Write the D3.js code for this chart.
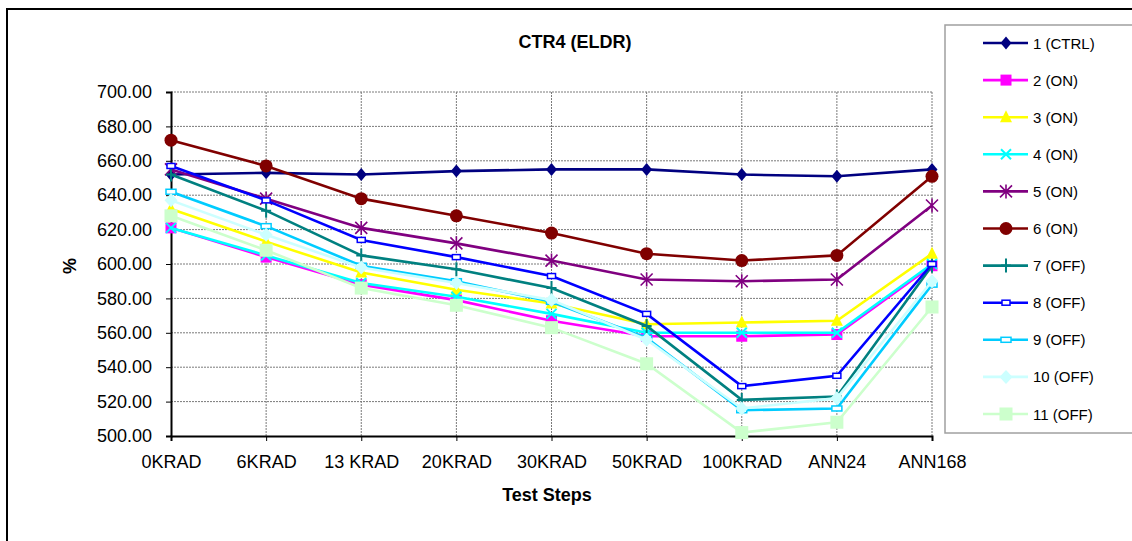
<!DOCTYPE html>
<html>
<head>
<meta charset="utf-8">
<script src="https://cdn.jsdelivr.net/npm/d3@7"></script>
<style>
  html, body { margin: 0; padding: 0; background: #fff; }
  svg { display: block; font-family: "Liberation Sans", Arial, sans-serif; }
</style>
</head>
<body>
<svg id="chart" width="1132" height="541"></svg>
<script>
const categories = ["0KRAD", "6KRAD", "13 KRAD", "20KRAD", "30KRAD", "50KRAD", "100KRAD", "ANN24", "ANN168"];
const yTicks = [500, 520, 540, 560, 580, 600, 620, 640, 660, 680, 700];
const seriesNames = ["1 (CTRL)", "2 (ON)", "3 (ON)", "4 (ON)", "5 (ON)", "6 (ON)", "7 (OFF)", "8 (OFF)", "9 (OFF)", "10 (OFF)", "11 (OFF)"];
const s1  = [652, 653, 652, 654, 655, 655, 652, 651, 655];
const s2  = [621, 604, 588, 579, 567, 558, 558, 559, 599];
const s3  = [632, 613, 595, 585, 577, 565, 566, 567, 606];
const s4  = [621, 605, 589, 581, 571, 560, 560, 560, 600];
const s5  = [655, 638, 621, 612, 602, 591, 590, 591, 634];
const s6  = [672, 657, 638, 628, 618, 606, 602, 605, 651];
const s7  = [652, 631, 605, 597, 586, 564, 521, 523, 599];
const s8  = [657, 637, 614, 604, 593, 571, 529, 535, 600];
const s9  = [642, 622, 599, 590, 578, 557, 515, 516, 588];
const s10 = [637, 617, 598, 589, 579, 556, 516, 522, 590];
const s11 = [628, 608, 586, 576, 563, 542, 502, 508, 575];
const seriesValues = [s1, s2, s3, s4, s5, s6, s7, s8, s9, s10, s11];

const colors = ["#000080", "#FF00FF", "#FFFF00", "#00FFFF", "#800080", "#800000", "#008080", "#0000FF", "#00CCFF", "#CCFFFF", "#CCFFCC"];
const markers = ["diamond", "square", "triangle", "x", "asterisk", "circle", "plus", "dashrect", "dashrect2", "diamond2", "square2"];

const svg = d3.select("#chart");

// outer frame
svg.append("rect").attr("x", 7).attr("y", 9).attr("width", 1140).attr("height", 560)
  .attr("fill", "none").attr("stroke", "#000").attr("stroke-width", 2);

const x = d3.scalePoint().domain(categories).range([171, 932]).padding(0);
const y = d3.scaleLinear().domain([500, 700]).range([436, 92]);

// gridlines
const grid = svg.append("g");
grid.selectAll("line.h").data(yTicks.slice(1)).join("line")
  .attr("x1", 171).attr("x2", 932).attr("y1", d => y(d)).attr("y2", d => y(d))
  .attr("stroke", "#7a7a7a").attr("stroke-width", 1).attr("stroke-dasharray", "2,1");
grid.selectAll("line.v").data(categories.slice(1)).join("line")
  .attr("x1", d => x(d)).attr("x2", d => x(d)).attr("y1", 92).attr("y2", 436)
  .attr("stroke", "#7a7a7a").attr("stroke-width", 1).attr("stroke-dasharray", "2,1");

// axes
const yAxis = d3.axisLeft(y).tickValues(yTicks).tickFormat(d3.format(".2f")).tickSize(5).tickPadding(14);
const gy = svg.append("g").attr("transform", "translate(171,0)").call(yAxis);
gy.select(".domain").attr("stroke", "#000").attr("stroke-width", 2);
gy.selectAll("text").attr("font-size", 18).attr("fill", "#000");

const xAxis = d3.axisBottom(x).tickSize(5).tickPadding(14);
const gx = svg.append("g").attr("transform", "translate(0,436)").call(xAxis);
gx.select(".domain").attr("stroke", "#000").attr("stroke-width", 2);
gx.selectAll("text").attr("font-size", 18).attr("fill", "#000");

// marker drawing
function drawMarker(g, type, color) {
  switch (type) {
    case "diamond":
      g.append("path").attr("d", "M0,-6.5L5.5,0L0,6.5L-5.5,0Z").attr("fill", color); break;
    case "diamond2":
      g.append("path").attr("d", "M0,-7L6.5,0L0,7L-6.5,0Z").attr("fill", color); break;
    case "square":
      g.append("rect").attr("x", -5.5).attr("y", -5.5).attr("width", 11).attr("height", 11).attr("fill", color); break;
    case "square2":
      g.append("rect").attr("x", -6.5).attr("y", -6.5).attr("width", 13).attr("height", 13).attr("fill", color); break;
    case "triangle":
      g.append("path").attr("d", "M0,-7L6,5L-6,5Z").attr("fill", color); break;
    case "x":
      g.append("path").attr("d", "M-5,-5L5,5M-5,5L5,-5").attr("stroke", color).attr("stroke-width", 2); break;
    case "asterisk":
      g.append("path").attr("d", "M-6,-6L6,6M-6,6L6,-6M0,-7L0,7").attr("stroke", color).attr("stroke-width", 1.6); break;
    case "circle":
      g.append("circle").attr("r", 6.5).attr("fill", color); break;
    case "plus":
      g.append("path").attr("d", "M0,-7L0,7M-5,0L5,0").attr("stroke", color).attr("stroke-width", 2); break;
    case "dashrect":
      g.append("rect").attr("x", -4).attr("y", -2.5).attr("width", 8).attr("height", 5).attr("fill", "#fff").attr("stroke", color).attr("stroke-width", 1.5); break;
    case "dashrect2":
      g.append("rect").attr("x", -5).attr("y", -2.5).attr("width", 10).attr("height", 5).attr("fill", "#fff").attr("stroke", color).attr("stroke-width", 1.5); break;
  }
}

const line = d3.line().x((d, i) => x(categories[i])).y(d => y(d));

const plot = svg.append("g");
seriesValues.forEach((vals, si) => {
  const g = plot.append("g");
  g.append("path").datum(vals).attr("d", line).attr("fill", "none")
    .attr("stroke", colors[si]).attr("stroke-width", 2.6).attr("stroke-linejoin", "miter");
  vals.forEach((v, i) => {
    const mg = g.append("g").attr("transform", `translate(${x(categories[i])},${y(v)})`);
    drawMarker(mg, markers[si], colors[si]);
  });
});

// titles
svg.append("text").attr("x", 575).attr("y", 48).attr("text-anchor", "middle")
  .attr("font-size", 18).attr("font-weight", "bold").text("CTR4 (ELDR)");
svg.append("text").attr("x", 547).attr("y", 501).attr("text-anchor", "middle")
  .attr("font-size", 18).attr("font-weight", "bold").text("Test Steps");
svg.append("text").attr("transform", "translate(76,266) rotate(-90)").attr("text-anchor", "middle")
  .attr("font-size", 18).attr("font-weight", "bold").text("%");

// legend
svg.append("rect").attr("x", 945).attr("y", 25).attr("width", 200).attr("height", 408)
  .attr("fill", "#fff").attr("stroke", "#a0a0a0").attr("stroke-width", 1.5);
const leg = svg.append("g");
seriesNames.forEach((name, si) => {
  const ly = 43 + si * 37.1;
  const g = leg.append("g").attr("transform", `translate(0,${ly})`);
  g.append("line").attr("x1", 983).attr("x2", 1028).attr("y1", 0).attr("y2", 0)
    .attr("stroke", colors[si]).attr("stroke-width", 2.6);
  const mg = g.append("g").attr("transform", "translate(1006,0)");
  drawMarker(mg, markers[si], colors[si]);
  g.append("text").attr("x", 1033).attr("y", 5.5).attr("font-size", 15).text(name);
});
</script>
</body>
</html>
